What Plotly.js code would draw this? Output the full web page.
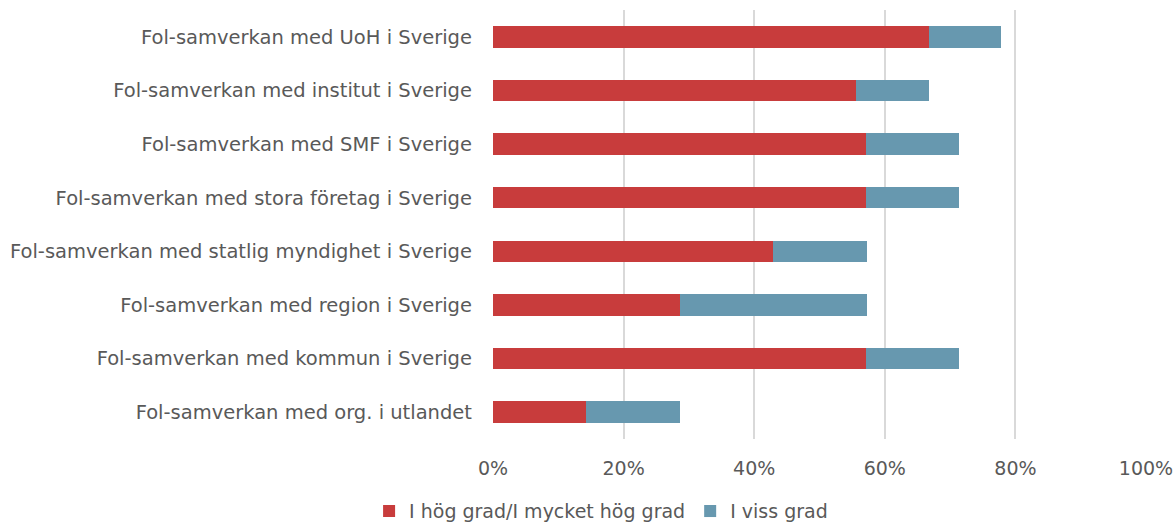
<!DOCTYPE html>
<html>
<head>
<meta charset="utf-8">
<script src="https://cdn.plot.ly/plotly-3.0.1.min.js"></script>
<style>html,body{margin:0;padding:0;background:#fff;}#chart{width:1174px;height:527px;}</style>
</head>
<body>
<div id="chart"></div>
<script>
const categories = [
  "Fol-samverkan med UoH i Sverige",
  "Fol-samverkan med institut i Sverige",
  "Fol-samverkan med SMF i Sverige",
  "Fol-samverkan med stora företag i Sverige",
  "Fol-samverkan med statlig myndighet i Sverige",
  "Fol-samverkan med region i Sverige",
  "Fol-samverkan med kommun i Sverige",
  "Fol-samverkan med org. i utlandet"
];
const seriesNames = ["I hög grad/I mycket hög grad", "I viss grad"];
const highValues = [0.667, 0.556, 0.571, 0.571, 0.429, 0.286, 0.571, 0.143];
const someValues = [0.111, 0.111, 0.143, 0.143, 0.143, 0.286, 0.143, 0.143];
const tickVals = [0, 0.2, 0.4, 0.6, 0.8, 1.0];
const tickText = ["0%", "20%", "40%", "60%", "80%", "100%"];

const font = "'DejaVu Sans', sans-serif";
const data = [
  {type: "bar", orientation: "h", name: seriesNames[0], y: categories, x: highValues,
   marker: {color: "#C83C3C"}, hoverinfo: "x+y"},
  {type: "bar", orientation: "h", name: seriesNames[1], y: categories, x: someValues,
   marker: {color: "#6798AF"}, hoverinfo: "x+y"}
];
const layout = {
  width: 1174, height: 527,
  barmode: "stack", bargap: 0.6,
  margin: {l: 493, r: 28, t: 10, b: 88, pad: 0},
  paper_bgcolor: "#fff", plot_bgcolor: "#fff",
  font: {family: font, size: 19, color: "#595959"},
  xaxis: {range: [0, 1], tickvals: tickVals, ticktext: tickText, showgrid: true,
          gridcolor: "#D9D9D9", gridwidth: 2, zeroline: false, showline: false,
          ticks: "", ticklen: 0, ticklabelstandoff: 16, tickfont: {size: 19, color: "#595959"}, fixedrange: true},
  yaxis: {autorange: "reversed", showgrid: false, zeroline: false, showline: false,
          ticks: "", ticklabelstandoff: 20, tickfont: {size: 19.5, color: "#595959"}},
  showlegend: true,
  legend: {orientation: "h", x: 0.512, xref: "container", xanchor: "center",
           y: 0.03, yref: "container", yanchor: "middle",
           font: {size: 19, color: "#595959"}, traceorder: "normal", itemwidth: 30}
};
Plotly.newPlot("chart", data, layout, {displayModeBar: false, staticPlot: true});
</script>
</body>
</html>
